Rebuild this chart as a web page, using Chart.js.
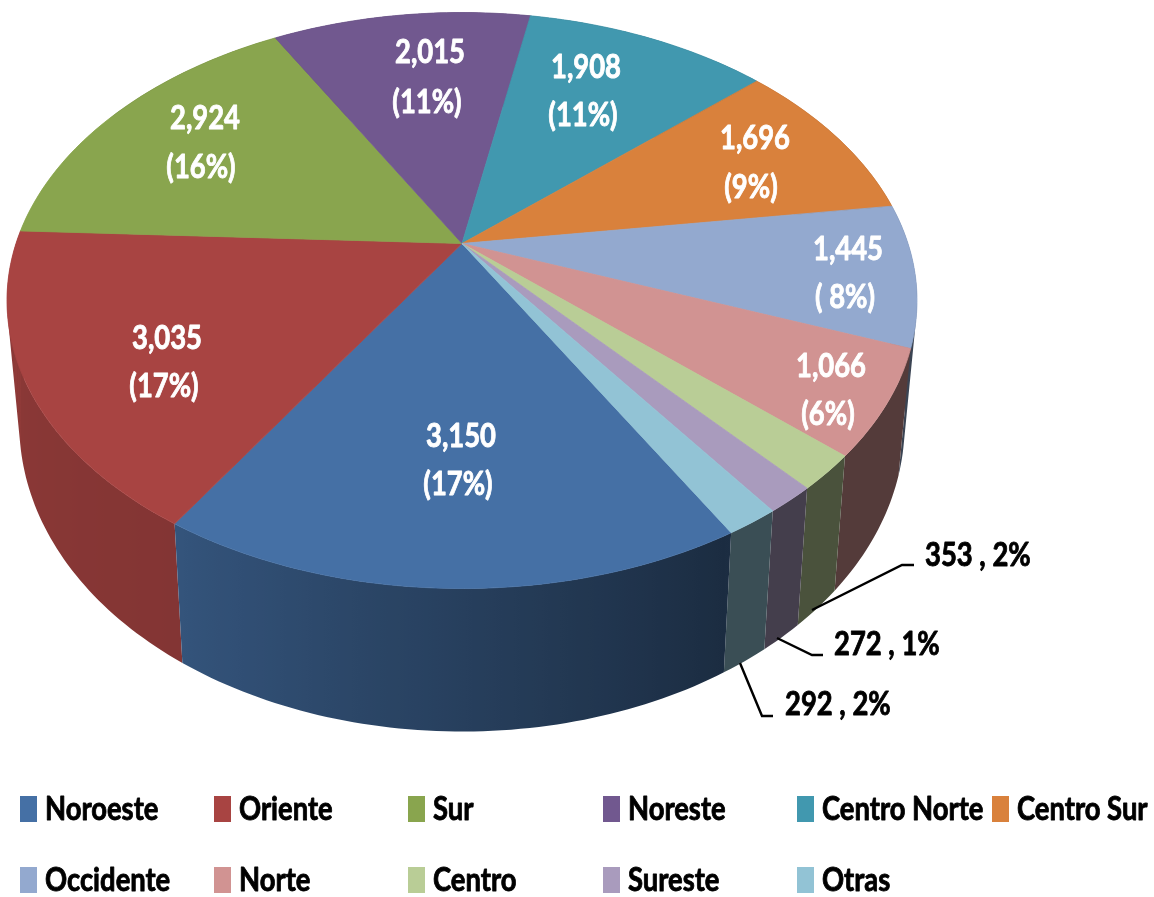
<!DOCTYPE html>
<html>
<head>
<meta charset="utf-8">
<script src="https://cdn.jsdelivr.net/npm/chart.js@4"></script>
<style>html,body{margin:0;padding:0;background:#fff}#w{width:1154px;height:897px}</style>
</head>
<body>
<div id="w"><canvas id="c" width="1154" height="897"></canvas></div>
<script>
const categories = ['Noroeste','Oriente','Sur','Noreste','Centro Norte','Centro Sur','Occidente','Norte','Centro','Sureste','Otras'];
const values = [3150,3035,2924,2015,1908,1696,1445,1066,353,272,292];
const valueLabels = ['3,150','3,035','2,924','2,015','1,908','1,696','1,445','1,066','353','272','292'];
const percentLabels = ['(17%)','(17%)','(16%)','(11%)','(11%)','(9%)','( 8%)','(6%)','2%','1%','2%'];
const colors = ['#4570A5','#A84442','#89A54E','#71588F','#4198AF','#D9813C','#93A9CF','#D19392','#B9CD96','#A99BBD','#92C3D5'];

// View geometry of the tilted disc
const CX = 462, CY = 243.5, RX = 446, RY = 276.7, K = -0.198, NARROW = 0.973;
const FONT = 'bold 33px Lato,"Liberation Sans",sans-serif';
const TEXT_SQUEEZE = 0.83;
const innerLabelAt = [[461,436,458,484],[167,338,164,386],[205,118,201,167],[430,52,427,102],[586,67,583,115],[755,138,751,187],[848,249,845,297],[831,366,828,414]];
const outerLabelAt = {8:[925,555],9:[834,644],10:[785,704]};
const leaders = {8:[[812,610],[902,565],[914,565]],9:[[777,638],[812,655],[823,655]],10:[[740,663],[762,716],[773,716]]};
const legendCols = [20,214,408,603,797,992], legendRows = [809,880];

function rimTop(a){const u=Math.cos(a),v=Math.sin(a),d=1+K*v;return {x:CX+RX*u/d,y:CY+RY*v/d,v};}
function rimBottom(a){const p=rimTop(a);return {x:CX+(p.x-CX)*NARROW,y:p.y+118+25*p.v,v:p.v};}
function brightness(a,i){
  let t=((a+Math.PI/2)*180/Math.PI)%360; if(t<0)t+=360;
  if(t<=150||t>300) return 0.40;
  if(i===1) return 0.78+(t-212)/58*0.07;
  return 0.39+(t-150)/62*0.36;
}
function shade(hex,f){const n=parseInt(hex.slice(1),16);return `rgb(${Math.round((n>>16&255)*f)},${Math.round((n>>8&255)*f)},${Math.round((n&255)*f)})`;}
function squeezedText(ctx,s,x,y){ctx.save();ctx.translate(x,y);ctx.scale(TEXT_SQUEEZE,1);ctx.strokeStyle=ctx.fillStyle;ctx.lineWidth=0.9;ctx.lineJoin='round';ctx.strokeText(s,0,0);ctx.fillText(s,0,0);ctx.restore();}

Chart.ArcElement.prototype.draw = function(ctx){
  const o=this.options, s=this.startAngle, e=this.endAngle;
  ctx.save();
  ctx.beginPath();
  ctx.moveTo(CX,CY);
  const n=Math.max(4,Math.ceil((e-s)/(Math.PI/180)));
  for(let i=0;i<=n;i++){const p=rimTop(s+(e-s)*i/n);ctx.lineTo(p.x,p.y);}
  ctx.closePath();
  ctx.fillStyle=o.backgroundColor;ctx.strokeStyle=o.backgroundColor;ctx.lineWidth=0.8;
  ctx.fill();ctx.stroke();
  ctx.restore();
};

const wallPlugin={id:'wall',beforeDatasetsDraw(chart){
  const ctx=chart.ctx;
  const els=chart.getDatasetMeta(0).data.map((el,i)=>({el,i,v:Math.sin((el.startAngle+el.endAngle)/2)}));
  els.sort((p,q)=>p.v-q.v);
  ctx.save();
  els.forEach(({el,i})=>{
    const s=el.startAngle,e=el.endAngle,n=Math.max(2,Math.ceil((e-s)/(Math.PI/180)));
    const tops=[],bots=[],angs=[];
    for(let j=0;j<=n;j++){const a=s+(e-s)*j/n;tops.push(rimTop(a));bots.push(rimBottom(a));angs.push(a);}
    const xs=tops.map(p=>p.x),x0=Math.min(...xs),x1=Math.max(...xs);
    const g=ctx.createLinearGradient(x0,0,x1,0);
    angs.forEach((a,j)=>g.addColorStop((xs[j]-x0)/(x1-x0),shade(colors[i],brightness(a,i))));
    ctx.beginPath();
    for(let j=0;j<n;j++){
      let q=[tops[j],tops[j+1],bots[j+1],bots[j]];
      let area=0;q.forEach((p,m)=>{const r=q[(m+1)%4];area+=p.x*r.y-r.x*p.y;});
      if(area<0)q=q.reverse();
      ctx.moveTo(q[0].x,q[0].y);q.slice(1).forEach(p=>ctx.lineTo(p.x,p.y));ctx.closePath();
    }
    ctx.fillStyle=g;ctx.fill();
  });
  ctx.restore();
}};

const textPlugin={id:'texts',afterDatasetsDraw(chart){
  const ctx=chart.ctx;
  ctx.save();
  ctx.font=FONT;ctx.textBaseline='middle';
  ctx.fillStyle='#fff';ctx.textAlign='center';
  innerLabelAt.forEach((p,i)=>{squeezedText(ctx,valueLabels[i],p[0],p[1]);squeezedText(ctx,percentLabels[i],p[2],p[3]);});
  ctx.fillStyle='#000';ctx.textAlign='left';
  Object.keys(outerLabelAt).forEach(k=>{const p=outerLabelAt[k];squeezedText(ctx,valueLabels[k]+' , '+percentLabels[k],p[0],p[1]);});
  ctx.strokeStyle='#000';ctx.lineWidth=2.4;
  Object.values(leaders).forEach(l=>{ctx.beginPath();l.forEach((q,i)=>i?ctx.lineTo(q[0],q[1]):ctx.moveTo(q[0],q[1]));ctx.stroke();});
  categories.forEach((c,i)=>{
    const x=legendCols[i%6],y=legendRows[Math.floor(i/6)];
    ctx.fillStyle=colors[i];ctx.fillRect(x,y-13,17,26);
    ctx.fillStyle='#000';squeezedText(ctx,c,x+25,y);
  });
  ctx.restore();
}};

new Chart(document.getElementById('c'),{
  type:'pie',
  data:{labels:categories,datasets:[{data:values,backgroundColor:colors,borderWidth:0}]},
  options:{responsive:false,animation:false,rotation:150,
    plugins:{legend:{display:false},tooltip:{enabled:false}}},
  plugins:[wallPlugin,textPlugin]
});
</script>
</body>
</html>
